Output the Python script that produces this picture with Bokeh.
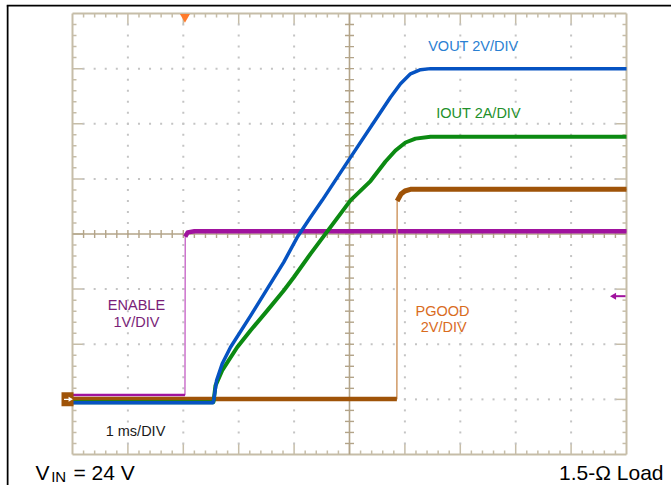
import numpy as np
from bokeh.plotting import figure
from bokeh.models import Range1d
from bokeh.core.properties import value
from bokeh.embed import file_html
from bokeh.resources import INLINE

# ---------------- data (time in ms, values in channel units) ----------------
ENABLE_T = [0.0, 2.03, 2.035, 2.08, 2.20, 10.0]
ENABLE_V = [0.08, 0.08, 2.95, 3.03, 3.05, 3.05]

VOUT_T = [0.0, 2.536, 2.554, 2.60, 2.702, 2.852, 3.213, 3.515, 3.814, 4.056,
          4.296, 4.507, 5.018, 5.56, 5.74, 5.921, 6.101, 6.282, 6.462, 10.0]
VOUT_V = [-0.12, -0.12, 0.03, 0.68, 1.29, 1.89, 3.03, 4.01, 4.98, 5.88,
          6.61, 7.22, 8.78, 10.42, 10.96, 11.45, 11.81, 11.96, 12.0, 12.0]

IOUT_T = [0.0, 2.545, 2.581, 2.702, 2.973, 3.213, 3.515, 3.814, 3.995, 4.296,
          4.657, 5.018, 5.379, 5.65, 5.83, 6.011, 6.191, 6.462, 10.0]
IOUT_A = [-0.1, -0.1, 0.50, 1.05, 1.89, 2.50, 3.22, 3.95, 4.43, 5.28,
          6.25, 7.22, 7.92, 8.63, 9.03, 9.32, 9.46, 9.53, 9.53]

PGOOD_T = [0.0, 5.855, 5.86, 5.93, 6.00, 6.10, 10.0]
PGOOD_V = [0.01, 0.01, 7.20, 7.45, 7.56, 7.62, 7.62]

ENABLE_SCALE = 1.0   # V/div
VOUT_SCALE = 2.0     # V/div
IOUT_SCALE = 2.0     # A/div
PGOOD_SCALE = 2.0    # V/div
GROUND_DIV = -3.0    # ground reference of all channels, in divisions
TRIGGER_T = 2.03     # ms
H_DIVS = 10
V_DIVS = 8


def to_div(vals, scale):
    return np.asarray(vals, dtype=float) / scale + GROUND_DIV


# ---------------- figure ----------------
W, H = 665, 481
X0, X1 = -1.1913, 10.8123
Y0, Y1 = -4.5624, 4.1633
PXX = (X1 - X0) / W
PXY = (Y1 - Y0) / H

p = figure(width=W, height=H, x_range=Range1d(X0, X1), y_range=Range1d(Y0, Y1),
           output_backend="svg", toolbar_location=None,
           x_axis_location=None, y_axis_location=None, min_border=0,
           outline_line_color=None, background_fill_color="white",
           border_fill_color="white")
p.grid.visible = False
p.styles = {"margin": "4px 0px 0px 6px"}

FONT = value("Liberation Sans")
EDGE = "#c6bda8"
CENTER = "#b3a489"
DOT = "#c4c4c4"

# page frame lines (black)
p.segment(x0=[X0, -1.173], y0=[4.145, 4.145], x1=[X1, -1.173], y1=[4.145, Y0],
          line_color="black", line_width=2)

# graticule border
hx = float(H_DIVS)
hy = V_DIVS / 2.0
p.segment(x0=[0, hx, 0, 0], y0=[-hy, -hy, hy, -hy], x1=[0, hx, hx, hx], y1=[hy, hy, hy, -hy],
          line_color=EDGE, line_width=2)

xs = np.round(np.arange(0.2, hx - 0.1, 0.2), 6)
ys = np.round(np.arange(-hy + 0.2, hy - 0.1, 0.2), 6)
xmaj = np.isclose(xs, np.round(xs))
ymaj = np.isclose(ys, np.round(ys))
lx = np.where(xmaj, 11, 4)
ly = np.where(ymaj, 11, 4)

# edge ticks
p.segment(x0=xs, y0=np.full_like(xs, hy), x1=xs, y1=hy - lx * PXY, line_color=EDGE, line_width=1.5)
p.segment(x0=xs, y0=np.full_like(xs, -hy), x1=xs, y1=-hy + lx * PXY, line_color=EDGE, line_width=1.5)
p.segment(x0=np.zeros_like(ys), y0=ys, x1=ly * PXX, y1=ys, line_color=EDGE, line_width=1.5)
p.segment(x0=np.full_like(ys, hx), y0=ys, x1=hx - ly * PXX, y1=ys, line_color=EDGE, line_width=1.5)

# dotted division lines
dvx = [k for k in range(1, H_DIVS) if k != H_DIVS // 2]
dvy = [k for k in range(-V_DIVS // 2 + 1, V_DIVS // 2) if k != 0]
dot_x = np.concatenate([np.full_like(ys, k) for k in dvx] + [xs for _ in dvy])
dot_y = np.concatenate([ys for _ in dvx] + [np.full_like(xs, k) for k in dvy])
p.scatter(dot_x, dot_y, marker="square", size=2, fill_color=DOT, line_color=None)

# center cross with ticks
cx = hx / 2
p.segment(x0=[cx, 0], y0=[-hy, 0], x1=[cx, hx], y1=[hy, 0], line_color=CENTER, line_width=1.6)
p.segment(x0=cx - 4.5 * PXX, y0=ys, x1=cx + 4.5 * PXX, y1=ys, line_color=CENTER, line_width=1.4)
p.segment(x0=xs, y0=-4 * PXY, x1=xs, y1=4 * PXY, line_color=CENTER, line_width=1.4)

# ---------------- traces ----------------
en_y = to_div(ENABLE_V, ENABLE_SCALE)
pg_y = to_div(PGOOD_V, PGOOD_SCALE)
io_y = to_div(IOUT_A, IOUT_SCALE)
vo_y = to_div(VOUT_V, VOUT_SCALE)

MAG = "#a0129e"
BRN = "#9f5308"
GRN = "#0c8a12"
BLU = "#0653c2"

p.line(ENABLE_T, en_y, line_color="#c45cc4", line_width=1.3)
p.line(ENABLE_T[:2], en_y[:2], line_color=MAG, line_width=2.5)
p.line(ENABLE_T[2:], en_y[2:], line_color=MAG, line_width=4.5, line_join="round")

p.line(PGOOD_T, pg_y, line_color="#c98a4e", line_width=1.3)
p.line(PGOOD_T[:2], pg_y[:2], line_color=BRN, line_width=4.5)
p.line(PGOOD_T[2:], pg_y[2:], line_color=BRN, line_width=5, line_join="round")

p.line(IOUT_T, io_y, line_color=GRN, line_width=4, line_join="round")
p.line(VOUT_T, vo_y, line_color=BLU, line_width=3.5, line_join="round")

# ground reference marker (left) and channel marker (right)
p.rect(x=[-0.09], y=[GROUND_DIV], width=12 * PXX, height=14 * PXY, fill_color=BRN, line_color=None)
p.segment(x0=[-0.09 - 3.5 * PXX], y0=[GROUND_DIV], x1=[-0.09 + 2 * PXX], y1=[GROUND_DIV],
          line_color="white", line_width=1.3)
p.scatter([-0.09 + 2.5 * PXX], [GROUND_DIV], marker="triangle", angle=-np.pi / 2, size=5,
          fill_color="white", line_color=None)

arr_y = -1.128
p.segment(x0=[9.80], y0=[arr_y], x1=[9.982], y1=[arr_y], line_color=MAG, line_width=2)
p.scatter([9.775], [arr_y], marker="triangle", angle=np.pi / 2, size=7,
          fill_color=MAG, line_color=None)

# trigger marker
p.scatter([TRIGGER_T], [hy - 3.5 * PXY], marker="inverted_triangle", size=10,
          fill_color="#ff7b2c", line_color=None)

# ---------------- labels ----------------
labels = [
    ("VOUT 2V/DIV", 7.235, 3.414, "#2a80d2"),
    ("IOUT 2A/DIV", 7.329, 2.204, "#22902a"),
    ("ENABLE", 1.155, -1.279, "#7a1e78"),
    ("1V/DIV", 1.155, -1.596, "#7a1e78"),
    ("PGOOD", 6.679, -1.388, "#d96c1e"),
    ("2V/DIV", 6.70, -1.696, "#d96c1e"),
    ("1 ms/DIV", 1.137, -3.565, "#1a1a1a"),
]
for txt, x, y, col in labels:
    p.text(x=[x], y=[y], text=[txt], text_color=col, text_font=FONT,
           text_font_size=value("14.5px"), text_align="center", text_baseline="middle")

base = -4.327
p.text(x=[-0.668], y=[base], text=["V"], text_color="black", text_font=FONT,
       text_font_size=value("21px"), text_align="left", text_baseline="alphabetic")
p.text(x=[-0.385], y=[-4.399], text=["IN"], text_color="black", text_font=FONT,
       text_font_size=value("15px"), text_align="left", text_baseline="alphabetic")
p.text(x=[0.018], y=[base], text=["= 24 V"], text_color="black", text_font=FONT,
       text_font_size=value("21px"), text_align="left", text_baseline="alphabetic")
p.text(x=[10.668], y=[base], text=["1.5-Ω Load"], text_color="black", text_font=FONT,
       text_font_size=value("21px"), text_align="right", text_baseline="alphabetic")

open("out.html", "w").write(file_html(p, INLINE))
